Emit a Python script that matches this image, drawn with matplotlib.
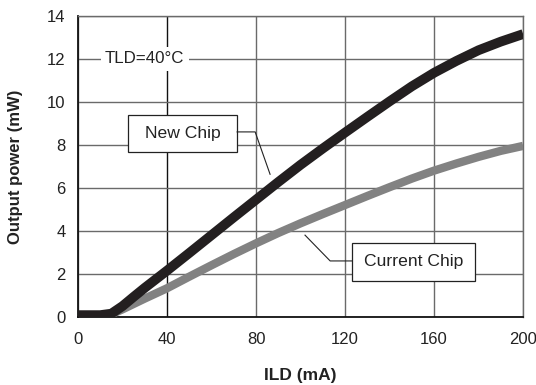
import matplotlib.pyplot as plt
from matplotlib.patches import Rectangle

plt.rcParams['font.family'] = ['Liberation Sans', 'DejaVu Sans']

# drive current (mA)
ild = [0, 10, 15, 20, 25, 30, 40, 50, 60, 70, 80, 90, 100, 110, 120,
       130, 140, 150, 160, 170, 180, 190, 200]
# output power (mW)
new_chip = [0.08, 0.08, 0.15, 0.5, 0.93, 1.35, 2.15, 2.97, 3.8, 4.63, 5.45, 6.27, 7.07,
            7.83, 8.57, 9.3, 10.02, 10.72, 11.35, 11.9, 12.4, 12.8, 13.15]
current_chip = [0.08, 0.08, 0.12, 0.35, 0.6, 0.85, 1.33, 1.87, 2.4, 2.92, 3.42, 3.9,
                4.35, 4.78, 5.2, 5.62, 6.03, 6.43, 6.8, 7.13, 7.44, 7.72, 7.95]

xticks = [0, 40, 80, 120, 160, 200]
yticks = [0, 2, 4, 6, 8, 10, 12, 14]

fig = plt.figure(figsize=(5.36, 3.85), dpi=100)
ax = fig.add_axes([0.1455, 0.177, 0.8305, 0.782])

ax.plot(ild, current_chip, color='#828282', linewidth=6, solid_capstyle='butt',
        solid_joinstyle='round', zorder=3)
ax.plot(ild, new_chip, color='#231f20', linewidth=7, solid_capstyle='butt',
        solid_joinstyle='round', zorder=4)

ax.set_xlim(0, 200)
ax.set_ylim(0, 14)
ax.set_xticks(xticks)
ax.set_yticks(yticks)
ax.tick_params(length=0, labelsize=12, colors='#222222')
ax.tick_params(axis='x', pad=11)
ax.tick_params(axis='y', pad=9)
ax.grid(True, color='#6a6a6a', linewidth=1.0)
ax.get_xgridlines()[1].set_color('#111111')
ax.set_axisbelow(True)
for side in ['left', 'bottom']:
    ax.spines[side].set_color('#111111')
    ax.spines[side].set_linewidth(1.3)
for side in ['top', 'right']:
    ax.spines[side].set_color('#6a6a6a')
    ax.spines[side].set_linewidth(1.0)

ax.set_xlabel('ILD (mA)', fontsize=12.5, fontweight='bold', labelpad=15, color='#222222')
ax.set_ylabel('Output power (mW)', fontsize=12, fontweight='bold', labelpad=17, color='#222222')

ax.text(30, 12, 'TLD=40°C', fontsize=12.2, ha='center', va='center', color='#222222',
        bbox=dict(facecolor='white', edgecolor='none', pad=3), zorder=5)

# label boxes with leader lines
ax.add_patch(Rectangle((22.5, 7.67), 49, 1.73, facecolor='white',
                       edgecolor='#222222', linewidth=0.9, zorder=6))
ax.text(47, 8.53, 'New Chip', fontsize=12.6, ha='center', va='center',
        color='#222222', zorder=7)
ax.plot([71.5, 79.6, 86.3], [8.6, 8.6, 6.63], color='#222222', linewidth=0.8, zorder=6)

ax.add_patch(Rectangle((123.1, 1.67), 55.3, 1.77, facecolor='white',
                       edgecolor='#222222', linewidth=0.9, zorder=6))
ax.text(150.8, 2.56, 'Current Chip', fontsize=12.6, ha='center', va='center',
        color='#222222', zorder=7)
ax.plot([123.1, 113.3, 102], [2.6, 2.6, 3.8], color='#222222', linewidth=0.8, zorder=6)

fig.savefig('out.png', dpi=100)
